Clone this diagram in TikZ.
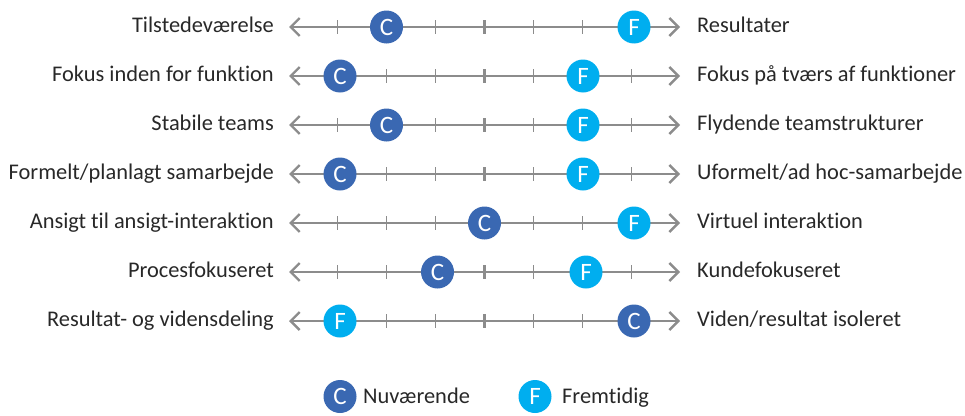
\documentclass[tikz,border=0pt]{standalone}
\usepackage{fontspec}
\setmainfont[Ligatures=NoCommon]{Carlito}
\usetikzlibrary{arrows.meta}
\definecolor{axisgray}{RGB}{140,140,140}
\definecolor{nowblue}{RGB}{58,104,178}
\definecolor{futcyan}{RGB}{0,174,239}
\definecolor{labeltext}{RGB}{40,40,40}
\tikzset{
  axisline/.style={draw=axisgray, line width=2.4pt,
    {Straight Barb[length=9pt,width=18pt,line width=2.4pt]}-{Straight Barb[length=9pt,width=18pt,line width=2.4pt]}},
  minortick/.style={draw=axisgray, line width=1.2pt},
  majortick/.style={draw=axisgray, line width=2.2pt},
  leftlabel/.style={anchor=base east, text=labeltext, font=\fontsize{22.4}{24}\selectfont, inner sep=0pt},
  rightlabel/.style={anchor=base west, text=labeltext, font=\fontsize{22.4}{24}\selectfont, inner sep=0pt},
  dot/.style={circle, minimum size=33pt, inner sep=0pt, text=white, font=\fontsize{25}{26}\selectfont},
  nowdot/.style={dot, fill=nowblue},
  futdot/.style={dot, fill=futcyan},
}
\begin{document}
\begin{tikzpicture}[x=1pt,y=-1pt]
\useasboundingbox (0,0) rectangle (965,415);
\foreach \i/\L/\R/\cx/\fx in {
  1/Tilstedeværelse/Resultater/386.5/634,
  2/Fokus inden for funktion/Fokus på tværs af funktioner/340/583,
  3/Stabile teams/Flydende teamstrukturer/386.5/583,
  4/Formelt\slash planlagt samarbejde/Uformelt\slash ad hoc-samarbejde/340/583,
  5/Ansigt til ansigt-interaktion/Virtuel interaktion/484.5/634,
  6/Procesfokuseret/Kundefokuseret/437.5/586,
  7/Resultat- og vidensdeling/Viden\slash resultat isoleret/634/340}{
  \pgfmathsetmacro{\yy}{27+49*(\i-1)}
  \coordinate (l\i) at (289,\yy);
  \coordinate (r\i) at (680,\yy);
  \draw[axisline] (l\i) -- (r\i);
  \foreach \k in {-3,-2,-1,1,2,3}{
    \draw[minortick] (484.5+49*\k,\yy-7) -- (484.5+49*\k,\yy+7);
  }
  \draw[majortick] (484.5,\yy-7) -- (484.5,\yy+7);
  \node[leftlabel] (a\i) at (274,\yy+5) {\L};
  \node[rightlabel] (b\i) at (697,\yy+5) {\R};
  \ifnum\i=7
    \node[futdot] (f\i) at (\fx,\yy) {F};
    \node[nowdot] (c\i) at (\cx,\yy) {C};
  \else
    \node[nowdot] (c\i) at (\cx,\yy) {C};
    \node[futdot] (f\i) at (\fx,\yy) {F};
  \fi
}
% legend
\node[nowdot] (legc) at (340,396.5) {C};
\node[rightlabel] (legct) at (363,403.5) {Nuværende};
\node[futdot] (legf) at (535,396.5) {F};
\node[rightlabel] (legft) at (562,403.5) {Fremtidig};
\end{tikzpicture}
\end{document}
